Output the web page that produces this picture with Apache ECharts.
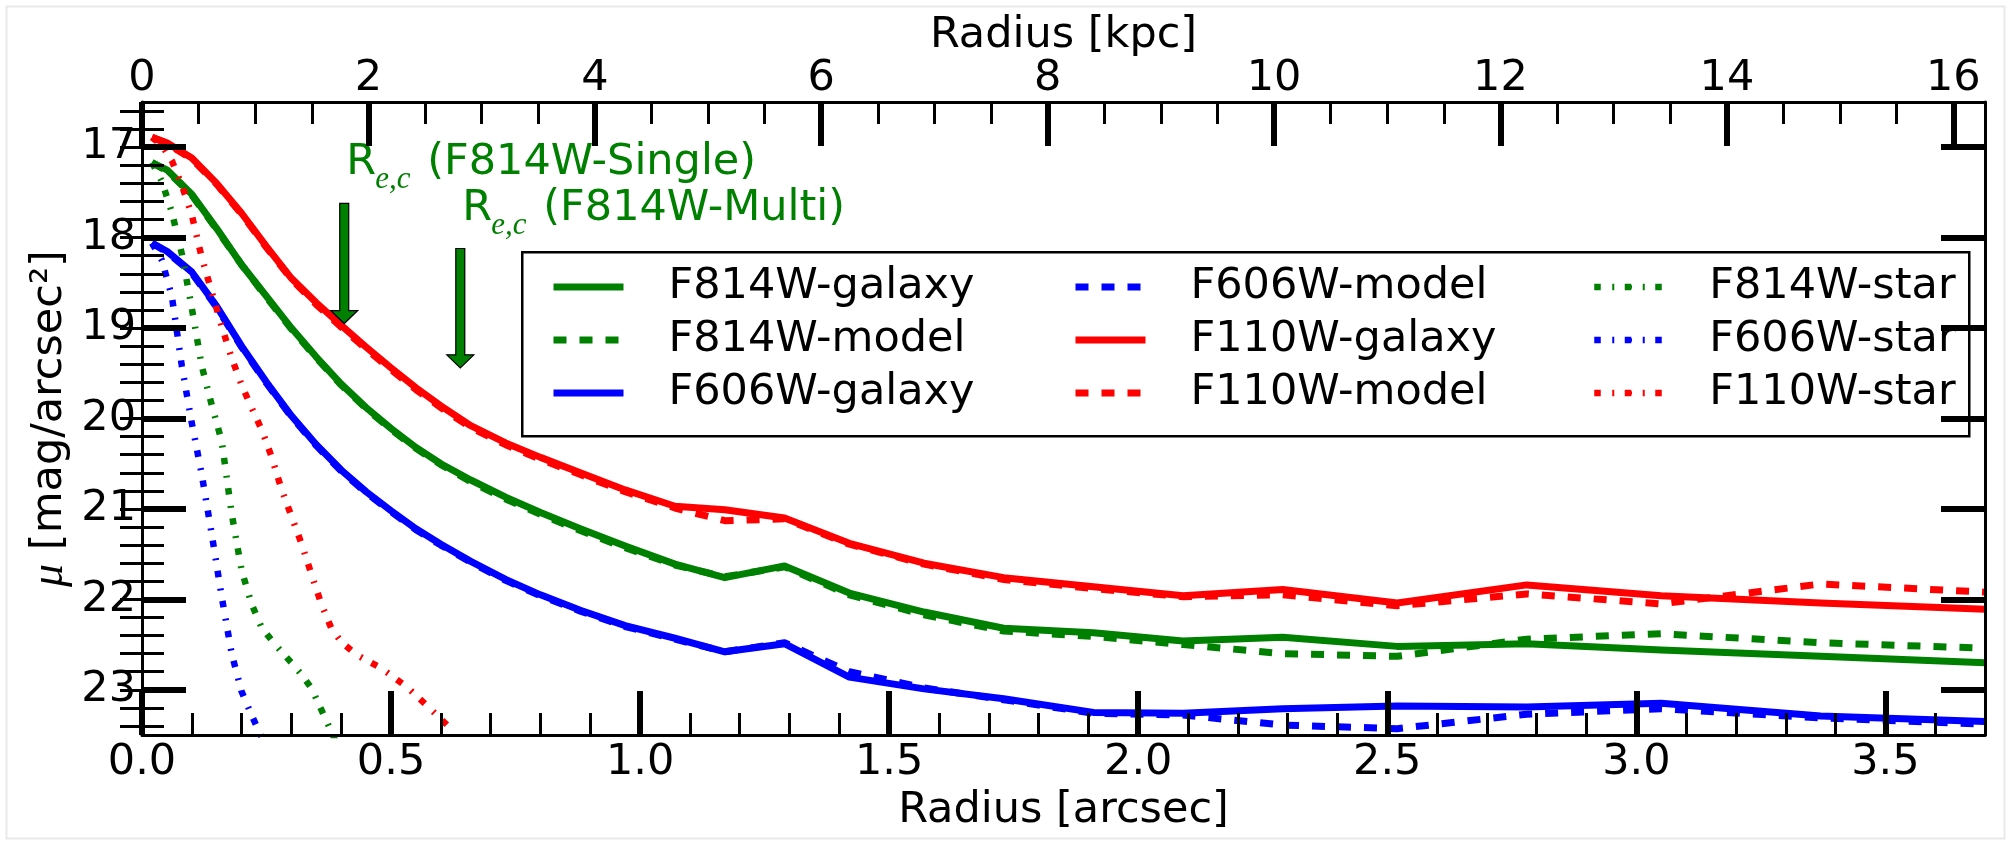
<!DOCTYPE html>
<html>
<head>
<meta charset="utf-8">
<script src="https://cdn.jsdelivr.net/npm/echarts@6/dist/echarts.min.js"></script>
<style>
html,body{margin:0;padding:0;background:#fff;}
#chart{width:2008px;height:841px;}
</style>
</head>
<body>
<div id="chart"></div>
<script>
// ---------------- data ----------------
const radius = [0.02, 0.05, 0.10, 0.15, 0.20, 0.25, 0.30, 0.35, 0.40, 0.45, 0.50, 0.55, 0.60, 0.66, 0.73, 0.80, 0.88, 0.97, 1.07, 1.17, 1.29, 1.42, 1.57, 1.73, 1.91, 2.09, 2.29, 2.52, 2.78, 3.05, 3.37, 3.70];

const f814wGalaxy = [17.17, 17.25, 17.52, 17.90, 18.30, 18.65, 19.00, 19.32, 19.62, 19.88, 20.11, 20.32, 20.50, 20.68, 20.87, 21.04, 21.22, 21.41, 21.61, 21.76, 21.63, 21.93, 22.14, 22.32, 22.37, 22.46, 22.42, 22.52, 22.49, 22.56, 22.63, 22.70];
const f814wModel  = [17.17, 17.26, 17.53, 17.91, 18.30, 18.66, 19.01, 19.33, 19.63, 19.89, 20.12, 20.33, 20.51, 20.70, 20.89, 21.06, 21.24, 21.43, 21.62, 21.75, 21.64, 21.95, 22.17, 22.35, 22.41, 22.50, 22.60, 22.63, 22.44, 22.38, 22.48, 22.54];
const f606wGalaxy = [18.06, 18.15, 18.38, 18.76, 19.20, 19.60, 19.97, 20.29, 20.57, 20.81, 21.02, 21.22, 21.39, 21.58, 21.78, 21.95, 22.12, 22.29, 22.43, 22.58, 22.49, 22.86, 22.99, 23.10, 23.25, 23.26, 23.21, 23.18, 23.19, 23.15, 23.29, 23.35];
const f606wModel  = [18.06, 18.16, 18.39, 18.77, 19.21, 19.61, 19.98, 20.30, 20.58, 20.82, 21.03, 21.23, 21.40, 21.59, 21.79, 21.96, 22.13, 22.30, 22.44, 22.58, 22.48, 22.80, 22.98, 23.11, 23.26, 23.28, 23.39, 23.43, 23.27, 23.21, 23.31, 23.38];
const f110wGalaxy = [16.89, 16.95, 17.12, 17.40, 17.73, 18.10, 18.45, 18.72, 18.97, 19.21, 19.44, 19.66, 19.86, 20.08, 20.27, 20.43, 20.60, 20.79, 20.97, 21.01, 21.10, 21.38, 21.60, 21.76, 21.86, 21.96, 21.89, 22.04, 21.84, 21.96, 22.04, 22.11];
const f110wModel  = [16.89, 16.96, 17.13, 17.41, 17.74, 18.11, 18.46, 18.74, 18.99, 19.23, 19.46, 19.68, 19.88, 20.10, 20.29, 20.45, 20.62, 20.81, 20.99, 21.13, 21.11, 21.39, 21.61, 21.78, 21.88, 21.97, 21.95, 22.07, 21.94, 22.05, 21.83, 21.92];

const starRadius = [0.02, 0.04, 0.06, 0.08, 0.10, 0.12, 0.14, 0.16, 0.18, 0.20, 0.22, 0.24, 0.26, 0.28, 0.30, 0.32, 0.34, 0.36, 0.38, 0.40, 0.43, 0.48, 0.53, 0.575, 0.62];
const f814wStar = [17.17, 17.38, 17.72, 18.18, 18.78, 19.42, 19.85, 20.25, 21.05, 21.68, 22.05, 22.31, 22.45, 22.58, 22.70, 22.83, 22.98, 23.22, 23.46, 23.72, null, null, null, null, null];
const f606wStar = [18.06, 18.25, 18.65, 19.42, 20.05, 20.62, 21.28, 21.97, 22.60, 23.02, 23.28, 23.52, null, null, null, null, null, null, null, null, null, null, null, null, null];
const f110wStar = [16.89, 16.98, 17.15, 17.42, 17.75, 18.22, 18.60, 18.98, 19.33, 19.63, 19.88, 20.12, 20.42, 20.78, 21.08, 21.38, 21.72, 22.05, 22.32, 22.47, 22.61, 22.76, 22.96, 23.19, 23.43];

// effective-radius arrows: x position [arcsec], shaft top and tip [mag/arcsec^2]
const arrowX     = [0.406, 0.639];
const arrowTop   = [17.62, 18.12];
const arrowTip   = [18.95, 19.44];
const arrowLabel = ['(F814W-Single)', '(F814W-Multi)'];

// axes and tick labels
const xMaxArcsec = 3.7;
const kpcPerArcsec = 4.4;
const yMin = 16.5, yMax = 23.5;
const xMajorTicks = [0, 0.5, 1.0, 1.5, 2.0, 2.5, 3.0, 3.5];
const kpcMajorTicks = [0, 2, 4, 6, 8, 10, 12, 14, 16];
const yMajorTicks = [17, 18, 19, 20, 21, 22, 23];
const xMinorStep = 0.1, kpcMinorStep = 0.5, yMinorStep = 0.2;

function steps(lo, hi, step) {
  const out = [];
  const n = Math.floor((hi - lo) / step + 1e-6);
  for (let i = 0; i <= n; i++) out.push(Math.round((lo + i * step) * 1000) / 1000);
  return out;
}
const xMinorTicks = steps(0, xMaxArcsec, xMinorStep);
const kpcMinorTicks = steps(0, 16, kpcMinorStep);
const yMinorTicks = steps(16.6, 23.4, yMinorStep);

// ---------------- styling ----------------
const GREEN = '#008000', BLUE = '#0000ff', RED = '#ff0000';
const FONT = 'DejaVu Sans';
const DASH = [13, 13];
const DASHDOT = [6.5, 11.5, 2, 10.5];

function pairs(xs, ys) {
  const out = [];
  xs.forEach((x, i) => { if (ys[i] != null) out.push([x, ys[i]]); });
  return out;
}
function lineSeries(name, xs, ys, color, type, width) {
  return {
    name: name, type: 'line', xAxisIndex: 0, yAxisIndex: 0,
    data: pairs(xs, ys), symbol: 'none', showSymbol: false, smooth: false,
    clip: true, z: 2,
    lineStyle: { color: color, width: width, type: type, cap: 'butt', join: 'round' },
    itemStyle: { color: color },
    emphasis: { disabled: true }
  };
}

const tickLabelStyle = { fontSize: 43, fontFamily: FONT, color: '#000' };
const axisLineStyle = { show: true, onZero: false, lineStyle: { color: '#000', width: 3 } };
function majorTick(values) { return { show: true, inside: true, length: 44, customValues: values, lineStyle: { color: '#000', width: 6 } }; }
function minorTick(values) { return { show: true, inside: true, length: 22, customValues: values, lineStyle: { color: '#000', width: 3 } }; }
const noLine = { show: false };
const noSplit = { show: false };

const kpcMax = xMaxArcsec * kpcPerArcsec;

const chart = echarts.init(document.getElementById('chart'), null, { renderer: 'canvas' });

const option = {
  animation: false,
  backgroundColor: '#ffffff',
  grid: { left: 142, right: 23, top: 102, bottom: 106, containLabel: false },
  xAxis: [
    { type: 'value', position: 'bottom', min: 0, max: xMaxArcsec, z: 5,
      axisLine: axisLineStyle, axisTick: majorTick(xMajorTicks), splitLine: noSplit,
      axisLabel: Object.assign({ margin: 6, customValues: xMajorTicks, formatter: v => v.toFixed(1) }, tickLabelStyle),
      name: 'Radius [arcsec]', nameLocation: 'middle', nameGap: 52,
      nameTextStyle: { fontSize: 43, fontFamily: FONT, color: '#000' } },
    { type: 'value', position: 'bottom', min: 0, max: xMaxArcsec, z: 5,
      axisLine: noLine, axisTick: minorTick(xMinorTicks), axisLabel: { show: false }, splitLine: noSplit },
    { type: 'value', position: 'top', min: 0, max: kpcMax, z: 5,
      axisLine: axisLineStyle, axisTick: majorTick(kpcMajorTicks), splitLine: noSplit,
      axisLabel: Object.assign({ margin: 2, customValues: kpcMajorTicks, formatter: v => String(Math.round(v)) }, tickLabelStyle),
      name: 'Radius [kpc]', nameLocation: 'middle', nameGap: 45, nameMoveOverlap: false,
      nameTextStyle: { fontSize: 43, fontFamily: FONT, color: '#000' } },
    { type: 'value', position: 'top', min: 0, max: kpcMax, z: 5,
      axisLine: noLine, axisTick: minorTick(kpcMinorTicks), axisLabel: { show: false }, splitLine: noSplit }
  ],
  yAxis: [
    { type: 'value', position: 'left', inverse: true, min: yMin, max: yMax, z: 5,
      axisLine: axisLineStyle, axisTick: majorTick(yMajorTicks), splitLine: noSplit,
      axisLabel: Object.assign({ margin: 6, customValues: yMajorTicks, formatter: v => String(Math.round(v)) }, tickLabelStyle),
      name: '{mu|μ} [mag/arcsec²]', nameLocation: 'middle', nameRotate: 90, nameGap: 69, nameMoveOverlap: false,
      nameTextStyle: { fontSize: 43, fontFamily: FONT, color: '#000',
        rich: { mu: { fontSize: 46, fontFamily: 'Liberation Serif', fontStyle: 'italic', color: '#000' } } } },
    { type: 'value', position: 'left', inverse: true, min: yMin, max: yMax, z: 5,
      axisLine: noLine, axisTick: minorTick(yMinorTicks), axisLabel: { show: false }, splitLine: noSplit },
    { type: 'value', position: 'right', inverse: true, min: yMin, max: yMax, z: 5,
      axisLine: axisLineStyle, axisTick: majorTick(yMajorTicks), axisLabel: { show: false }, splitLine: noSplit },
    { type: 'value', position: 'right', inverse: true, min: yMin, max: yMax, z: 5,
      axisLine: noLine, axisTick: minorTick(yMinorTicks), axisLabel: { show: false }, splitLine: noSplit }
  ],
  legend: [],
  graphic: [
    { type: 'rect', left: 4, top: 4, shape: { width: 1998, height: 832 }, silent: true, z: -10,
      style: { fill: 'none', stroke: '#e9e9e9', lineWidth: 2 } },
    { type: 'rect', left: 521, top: 251, shape: { width: 1447, height: 184 }, silent: true, z: 3,
      style: { fill: '#ffffff', stroke: '#000000', lineWidth: 2.5 } }
  ],
  series: [
    lineSeries('F814W-galaxy', radius, f814wGalaxy, GREEN, 'solid', 7),
    lineSeries('F814W-model', radius, f814wModel, GREEN, DASH, 7),
    lineSeries('F606W-galaxy', radius, f606wGalaxy, BLUE, 'solid', 7),
    lineSeries('F606W-model', radius, f606wModel, BLUE, DASH, 7),
    lineSeries('F110W-galaxy', radius, f110wGalaxy, RED, 'solid', 7),
    lineSeries('F110W-model', radius, f110wModel, RED, DASH, 7),
    lineSeries('F814W-star', starRadius, f814wStar, GREEN, DASHDOT, 6.5),
    lineSeries('F606W-star', starRadius, f606wStar, BLUE, DASHDOT, 6.5),
    lineSeries('F110W-star', starRadius, f110wStar, RED, DASHDOT, 6.5),
    {
      type: 'custom', name: 'arrows', xAxisIndex: 0, yAxisIndex: 0, z: 4, clip: false,
      data: arrowX.map((x, i) => [x, arrowTop[i], arrowTip[i], i]),
      renderItem: function (params, api) {
        const x = api.value(0), yt = api.value(1), yp = api.value(2), idx = api.value(3);
        const pTop = api.coord([x, yt]);
        const pTip = api.coord([x, yp]);
        const cx = pTop[0], sw = 4.5, hw = 13.5, hl = 13;
        const pts = [
          [cx - sw, pTop[1]], [cx + sw, pTop[1]], [cx + sw, pTip[1] - hl], [cx + hw, pTip[1] - hl],
          [cx, pTip[1]], [cx - hw, pTip[1] - hl], [cx - sw, pTip[1] - hl]
        ];
        const ty = pTop[1] - 40;
        return {
          type: 'group',
          children: [
            { type: 'polygon', shape: { points: pts }, style: { fill: GREEN, stroke: '#000', lineWidth: 1.2 } },
            { type: 'text', x: cx + 2, y: ty, style: { text: 'R', fill: GREEN, font: '43px "DejaVu Sans"', align: 'left', verticalAlign: 'middle' } },
            { type: 'text', x: cx + 31, y: ty + 17, style: { text: 'e,c', fill: GREEN, font: 'italic 31px "Liberation Serif"', align: 'left', verticalAlign: 'middle' } },
            { type: 'text', x: cx + 83, y: ty, style: { text: arrowLabel[idx], fill: GREEN, font: '43px "DejaVu Sans"', align: 'left', verticalAlign: 'middle' } }
          ]
        };
      }
    }
  ]
};

const legendCols = [
  { left: 550, names: ['F814W-galaxy', 'F814W-model', 'F606W-galaxy'] },
  { left: 1072, names: ['F606W-model', 'F110W-galaxy', 'F110W-model'] },
  { left: 1591, names: ['F814W-star', 'F606W-star', 'F110W-star'] }
];
legendCols.forEach(c => {
  option.legend.push({
    orient: 'vertical', left: c.left, top: 264, padding: 0, z: 6,
    itemWidth: 70, itemHeight: 7, itemGap: 7, selectedMode: false,
    data: c.names,
    lineStyle: { width: 'inherit' },
    textStyle: { fontSize: 43, fontFamily: FONT, color: '#000', lineHeight: 46, padding: [0, 0, 0, 40] }
  });
});

chart.setOption(option);
</script>
</body>
</html>
